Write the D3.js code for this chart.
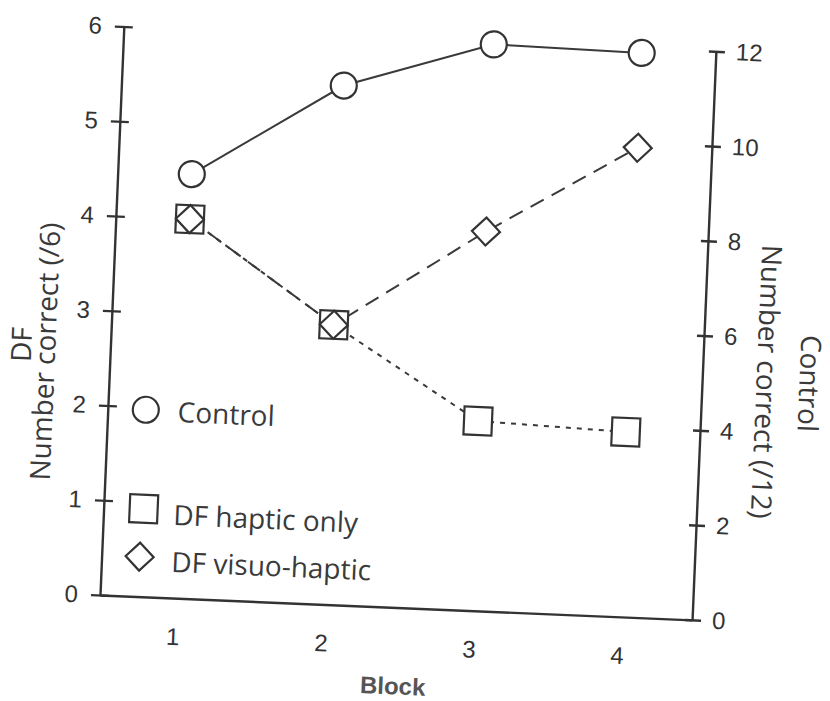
<!DOCTYPE html>
<html>
<style>
    body { margin: 0; background: #fff; }
    .tick text { font-family: "Liberation Sans", Arial, sans-serif; font-size: 24px; fill: #333; }
    .domain, .tick line { stroke: #333; stroke-width: 2.4px; }
    .title { font-family: "Open Sans", sans-serif; font-size: 28px; fill: #3a3a3a; }
    .legend-text { font-family: "Open Sans", sans-serif; font-size: 28px; fill: #3a3a3a; }
</style>
<script src="https://d3js.org/d3.v7.min.js"></script>
<body>
<svg width="830" height="701"></svg>
<script>
    // values
    const blocks = [1, 2, 3, 4];
    const controlScores = [8.95, 10.95, 11.95, 11.9];   // right axis, /12
    const hapticOnly = [4.0, 2.95, 2.0, 1.95];           // left axis, /6
    const visuoHaptic = [4.0, 2.95, 4.0, 4.95];          // left axis, /6
    const leftTicks = [0, 1, 2, 3, 4, 5, 6];
    const rightTicks = [0, 2, 4, 6, 8, 10, 12];
    const legendItems = ["Control", "DF haptic only", "DF visuo-haptic"];

    const svg = d3.select("svg");
    const x0 = 100, x1 = 692.6, yBottom = 595, yTop = 26;

    // the page was scanned a little crooked
    const g = svg.append("g").attr("transform", `rotate(2.4,${x0},${yBottom})`);

    const x = d3.scaleLinear().domain([0.5, 4.5]).range([x0, x1]);
    const yLeft = d3.scaleLinear().domain([0, 6]).range([yBottom, yTop]);
    const yRight = d3.scaleLinear().domain([0, 12]).range([yBottom, yTop]);

    // axes
    g.append("g").attr("transform", `translate(0,${yBottom})`)
        .call(d3.axisBottom(x).tickValues(blocks).tickFormat(d3.format("d")).tickSize(0).tickPadding(30));

    const leftAxis = g.append("g").attr("transform", `translate(${x0},0)`)
        .call(d3.axisLeft(yLeft).tickValues(leftTicks).tickFormat(d3.format("d"))
            .tickSize(9).tickSizeOuter(0).tickPadding(13));
    leftAxis.selectAll(".tick line").attr("x1", 9);

    const rightAxis = g.append("g").attr("transform", `translate(${x1},0)`)
        .call(d3.axisRight(yRight).tickValues(rightTicks).tickFormat(d3.format("d"))
            .tickSize(9).tickSizeOuter(0).tickPadding(11));
    rightAxis.selectAll(".tick line").attr("x1", -7);

    // titles
    g.append("text").attr("class", "title")
        .attr("transform", "translate(21,348) rotate(-90)")
        .attr("text-anchor", "middle").text("DF");
    g.append("text").attr("class", "title")
        .attr("transform", "translate(45,354) rotate(-90)")
        .attr("text-anchor", "middle").text("Number correct (/6)");
    g.append("text").attr("class", "title")
        .attr("transform", "translate(747,354) rotate(90)")
        .attr("text-anchor", "middle").text("Number correct (/12)");
    g.append("text").attr("class", "title")
        .attr("transform", "translate(790,354) rotate(90)")
        .attr("text-anchor", "middle").text("Control");
    g.append("text")
        .attr("x", (x0 + x1) / 2).attr("y", 682)
        .attr("text-anchor", "middle")
        .style("font-family", "Liberation Sans, Arial, sans-serif")
        .style("font-size", "24px").style("font-weight", "bold").style("fill", "#555")
        .text("Block");

    // lines
    const lineLeft = d3.line().x((d, i) => x(blocks[i])).y(d => yLeft(d));
    const lineRight = d3.line().x((d, i) => x(blocks[i])).y(d => yRight(d));
    const lineStyle = sel => sel.attr("fill", "none").attr("stroke", "#3a3a3a").attr("stroke-width", 2);

    g.append("path").attr("d", lineLeft(hapticOnly)).call(lineStyle).attr("stroke-dasharray", "5,6");
    g.append("path").attr("d", lineLeft(visuoHaptic)).call(lineStyle).attr("stroke-dasharray", "15,9");
    g.append("path").attr("d", lineRight(controlScores)).call(lineStyle);

    // markers
    const markStyle = sel => sel.attr("fill", "#fff").attr("stroke", "#333").attr("stroke-width", 2.2);
    const square = d3.symbol().type(d3.symbolSquare).size(28 * 28);
    const diamond = (s) => `M0,${-s}L${s},0L0,${s}L${-s},0Z`;

    g.selectAll(".sq").data(hapticOnly).join("path")
        .attr("transform", (d, i) => `translate(${x(blocks[i])},${yLeft(d)})`)
        .attr("d", square).call(markStyle);
    g.selectAll(".dm").data(visuoHaptic).join("path")
        .attr("transform", (d, i) => `translate(${x(blocks[i])},${yLeft(d)})`)
        .attr("d", diamond(14)).call(markStyle);
    g.selectAll(".ci").data(controlScores).join("circle")
        .attr("cx", (d, i) => x(blocks[i])).attr("cy", d => yRight(d))
        .attr("r", 13).call(markStyle);

    // legend
    const legendY = [408, 507, 555];
    const legendBase = [419, 522, 569];
    const leg = g.append("g");
    leg.append("circle").attr("cx", 138).attr("cy", legendY[0]).attr("r", 13).call(markStyle);
    leg.append("path").attr("transform", `translate(140,${legendY[1]})`).attr("d", square).call(markStyle);
    leg.append("path").attr("transform", `translate(138,${legendY[2]})`).attr("d", diamond(14)).call(markStyle);
    leg.selectAll("text").data(legendItems).join("text")
        .attr("class", "legend-text")
        .attr("x", 170).attr("y", (d, i) => legendBase[i])
        .text(d => d);
</script>
</body>
</html>
